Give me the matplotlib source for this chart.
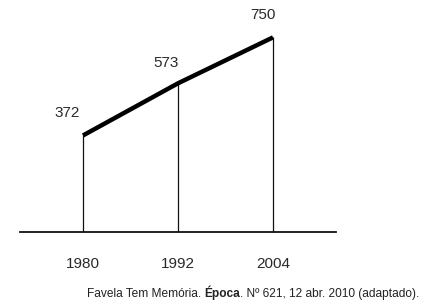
import matplotlib
matplotlib.use("Agg")
import matplotlib.pyplot as plt

years = [1980, 1992, 2004]
values = [372, 573, 750]
year_labels = ["1980", "1992", "2004"]

W, H, DPI = 438, 306, 100
plt.rcParams['font.family'] = ['Liberation Sans', 'DejaVu Sans']

fig = plt.figure(figsize=(W / DPI, H / DPI), dpi=DPI)
ax = fig.add_axes([0, 0, 1, 1])
ax.set_axis_off()
ax.set_xlim(1969.52, 2024.84)
ax.set_ylim(-285, 894)

# baseline
ax.axhline(0, xmin=0.046, xmax=0.767, color='#111111', lw=1.3)

# vertical drop lines
for x, v in zip(years, values):
    ax.plot([x, x], [0, v], color='#111111', lw=0.9, solid_capstyle='butt')

# thick data line
ax.plot(years, values, color='black', lw=3.2, solid_capstyle='butt', solid_joinstyle='miter')

# value labels
offsets = [(-16, 22), (-12, 20), (-10, 22)]
for x, v, off in zip(years, values, offsets):
    ax.annotate(str(v), (x, v), xytext=off, textcoords='offset pixels',
                ha='center', va='center', fontsize=11, color='#2a2a2a')

# year labels
for x, lab in zip(years, year_labels):
    ax.annotate(lab, (x, 0), xytext=(0, -32), textcoords='offset pixels',
                ha='center', va='center', fontsize=11, color='#2a2a2a')

# source caption
t1 = fig.text(87 / W, 0.039, "Favela Tem Memória. ", fontsize=8.6, va='center', color='#222222')
t2 = ax.annotate("Época", xy=(1, 0), xycoords=t1, va='bottom', fontsize=8.6,
                 fontweight='bold', color='#222222')
ax.annotate(". Nº 621, 12 abr. 2010 (adaptado).", xy=(1, 0), xycoords=t2, va='bottom',
            fontsize=8.6, color='#222222')

fig.savefig("out.png", dpi=DPI, facecolor='white')
